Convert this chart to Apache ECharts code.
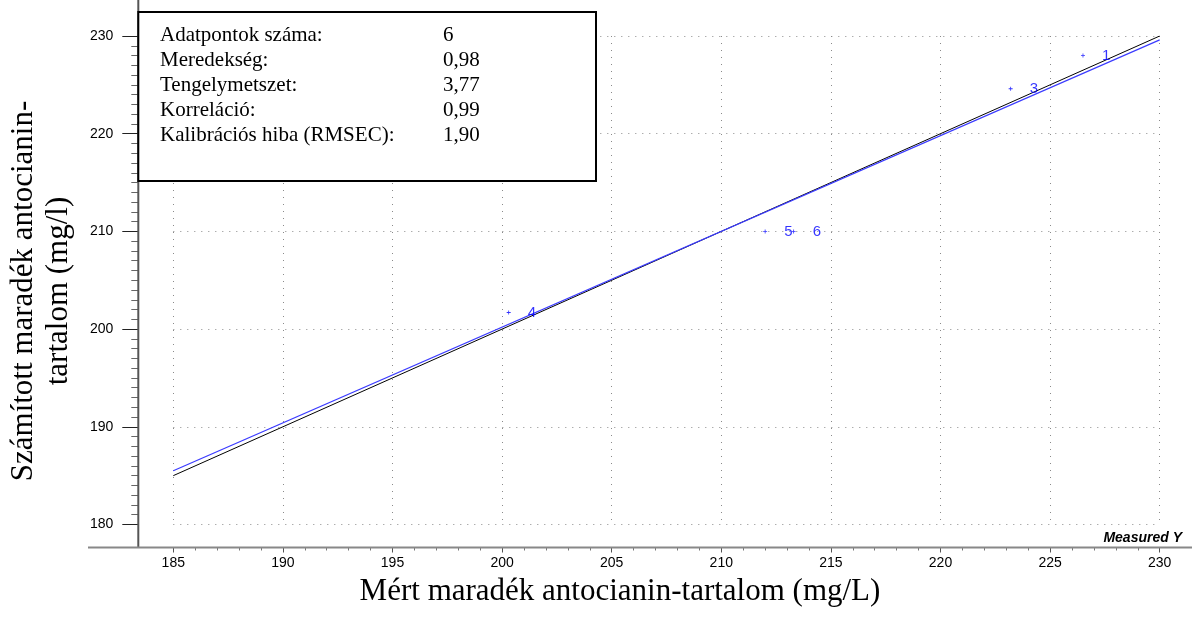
<!DOCTYPE html>
<html>
<head>
<meta charset="utf-8">
<script src="https://cdn.jsdelivr.net/npm/echarts@6/dist/echarts.min.js"></script>
<style>
html,body{margin:0;padding:0;background:#fff;}
#c{width:1192px;height:623px;}
</style>
</head>
<body>
<div id="c"></div>
<script>
// ---- data ----
const pointIds = ['1', '2', '3', '4', '5', '6'];
const measured = [226.5, 184.5, 223.2, 200.3, 212.0, 213.3];
const predicted = [228.0, 185.8, 224.6, 201.7, 210.0, 210.0];
const identityLine = [[185, 185], [230, 230]];
const fitLine = [[185, 185.5], [230, 229.6]];
const xTicks = [185, 190, 195, 200, 205, 210, 215, 220, 225, 230];
const yTicks = [180, 190, 200, 210, 220, 230];
const statLabels = ['Adatpontok száma:', 'Meredekség:', 'Tengelymetszet:', 'Korreláció:', 'Kalibrációs hiba (RMSEC):'];
const statValues = ['6', '0,98', '3,77', '0,99', '1,90'];
const xTitle = 'Mért maradék antocianin-tartalom (mg/L)';
const yTitle = 'Számított maradék antocianin-\ntartalom (mg/l)';
const cornerLabel = 'Measured Y';

// ---- layout ----
const W = 1192, H = 623;
const G = {left: 173.3, right: 32.3, top: 36, bottom: 98.5};
const yOff = 35, xOff = 23;
const axisX = G.left - yOff;          // y axis line x
const axisY = H - G.bottom + xOff;    // x axis line y
const serif = '"Liberation Serif", "Times New Roman", serif';
const sans = '"Liberation Sans", Arial, sans-serif';
const plus = 'path://M2,0h1v2h2v1h-2v2h-1v-2h-2v-1h2z';

const chart = echarts.init(document.getElementById('c'), null, {renderer: 'canvas'});

const pts = measured.map((m, i) => ({value: [m, predicted[i]], name: pointIds[i]}));

const statText = [];
statLabels.forEach((l, i) => {
  statText.push({type: 'text', z: 101, x: 160, y: 35 + i * 25,
    style: {text: l, font: '21px ' + serif, fill: '#000', verticalAlign: 'middle'}});
  statText.push({type: 'text', z: 101, x: 443, y: 35 + i * 25,
    style: {text: statValues[i], font: '21px ' + serif, fill: '#000', verticalAlign: 'middle'}});
});

chart.setOption({
  animation: false,
  backgroundColor: '#fff',
  grid: {left: G.left, right: G.right, top: G.top, bottom: G.bottom},
  xAxis: {
    type: 'value', min: xTicks[0], max: xTicks[xTicks.length - 1], interval: 5,
    offset: xOff,
    axisLine: {show: false},
    axisTick: {show: true, length: 5, lineStyle: {color: '#555'}},
    minorTick: {show: true, splitNumber: 5, length: 3, lineStyle: {color: '#777'}},
    axisLabel: {margin: 9, color: '#000', fontSize: 14, fontFamily: sans},
    splitLine: {show: true, lineStyle: {color: '#8a8a8a', type: [1, 6], width: 1}}
  },
  yAxis: {
    type: 'value', min: yTicks[0], max: yTicks[yTicks.length - 1], interval: 10,
    offset: yOff,
    axisLine: {show: false},
    axisTick: {show: true, length: 16, lineStyle: {color: '#222'}},
    minorTick: {show: true, splitNumber: 10, length: 7, lineStyle: {color: '#666'}},
    axisLabel: {margin: 25, color: '#000', fontSize: 14, fontFamily: sans},
    splitLine: {show: true, lineStyle: {color: '#8a8a8a', type: [1, 6], width: 1}}
  },
  series: [
    {
      type: 'line', data: identityLine, showSymbol: false, symbol: 'none',
      lineStyle: {color: '#000', width: 1}, z: 3, silent: true
    },
    {
      type: 'line', data: fitLine, showSymbol: false, symbol: 'none',
      lineStyle: {color: '#3b3bff', width: 1.2}, z: 4, silent: true
    },
    {
      type: 'scatter', data: pts, symbol: plus, symbolSize: 4,
      itemStyle: {color: '#0000ff'}, z: 5,
      label: {
        show: true, position: 'right', distance: 17,
        formatter: p => p.name, color: '#0000ff', fontSize: 15, fontFamily: sans
      }
    }
  ],
  graphic: [
    {type: 'line', shape: {x1: axisX, y1: 0, x2: axisX, y2: axisY}, style: {stroke: '#555', lineWidth: 2}, z: 50},
    {type: 'line', shape: {x1: 88, y1: axisY, x2: W, y2: axisY}, style: {stroke: '#888', lineWidth: 2}, z: 50},
    {type: 'rect', shape: {x: axisX, y: 12, width: 596 - axisX, height: 181 - 12},
      style: {fill: '#fff', stroke: '#000', lineWidth: 2}, z: 100}
  ].concat(statText).concat([
    {type: 'text', z: 60, x: 620, y: 592,
      style: {text: xTitle, font: '31px ' + serif, fill: '#000', align: 'center', verticalAlign: 'middle'}},
    {type: 'text', z: 60, x: 41, y: 291, rotation: Math.PI / 2,
      style: {text: yTitle, font: '31px ' + serif, fill: '#000', align: 'center', verticalAlign: 'middle', lineHeight: 35}},
    {type: 'text', z: 60, x: 1182, y: 538,
      style: {text: cornerLabel, font: 'italic bold 14px ' + sans, fill: '#000', align: 'right', verticalAlign: 'middle'}}
  ])
});
</script>
</body>
</html>
